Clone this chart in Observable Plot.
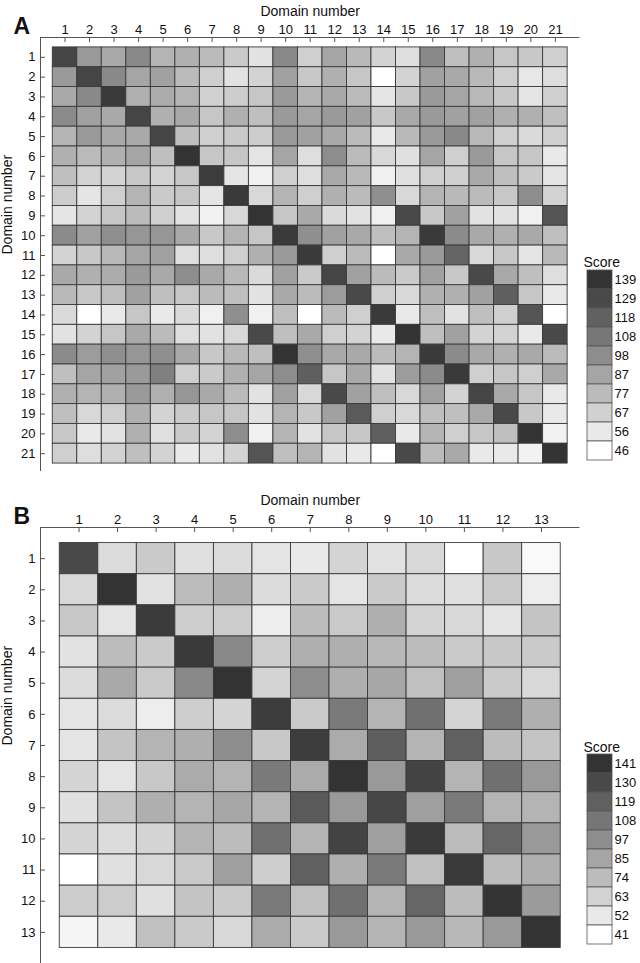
<!DOCTYPE html>
<html><head><meta charset="utf-8">
<script src="https://cdn.jsdelivr.net/npm/d3@7"></script>
<script src="https://cdn.jsdelivr.net/npm/@observablehq/plot@0.6"></script>
<style>
body{margin:0;background:#fff}
#chart{position:relative;width:640px;height:963px;overflow:hidden}
#chart svg{position:absolute;left:0;overflow:visible}
</style>
</head><body><div id="chart"></div>
<script>
const domainsA = [1,2,3,4,5,6,7,8,9,10,11,12,13,14,15,16,17,18,19,20,21];
const scoresA = [
  [131,92,85,100,80,82,77,70,59,100,68,87,78,66,61,100,75,82,72,71,68],
  [92,131,100,87,89,77,68,59,66,89,71,82,72,46,66,89,85,78,68,57,61],
  [85,100,136,82,84,80,67,69,72,92,80,85,77,58,71,92,87,78,71,58,68],
  [99,89,85,131,82,85,72,82,75,92,87,92,89,71,85,92,89,89,82,82,75],
  [80,92,85,85,131,75,68,70,69,92,89,85,77,56,78,92,100,78,68,63,68],
  [82,77,82,87,75,139,72,72,58,87,61,98,77,64,60,87,68,92,72,72,56],
  [75,66,66,71,66,71,135,58,53,68,61,85,78,53,60,68,68,85,75,70,58],
  [69,58,68,80,70,72,58,136,64,80,68,82,77,97,64,80,78,77,71,98,66],
  [58,66,72,77,68,59,52,64,139,72,85,63,59,53,129,71,89,59,59,53,124],
  [99,89,97,94,94,85,71,80,72,136,97,89,85,75,80,136,99,85,82,85,75],
  [66,71,78,87,89,61,61,68,82,92,136,68,77,46,85,92,116,64,71,58,78],
  [85,82,84,92,85,98,85,78,63,89,70,131,89,77,70,89,71,129,85,75,61],
  [78,71,75,89,75,72,77,75,59,85,77,91,129,68,64,82,82,89,119,72,56],
  [63,46,56,72,56,63,53,97,53,75,46,77,68,136,56,75,59,75,68,124,46],
  [59,66,72,85,77,61,59,64,129,75,85,68,66,56,139,75,89,66,66,56,129],
  [99,91,97,94,97,85,71,78,75,139,97,85,85,77,80,136,99,85,82,85,77],
  [75,87,89,92,104,68,70,82,87,98,119,72,85,59,91,99,136,68,72,68,85],
  [82,80,82,92,82,94,85,77,59,89,64,129,89,75,64,89,66,131,85,72,56],
  [75,64,68,82,66,70,72,72,59,80,71,89,121,68,64,75,75,85,129,71,56],
  [71,56,59,82,60,70,66,98,53,80,59,72,72,119,56,80,68,72,75,139,52],
  [68,61,66,75,66,56,59,66,124,75,80,59,56,46,129,77,85,56,56,52,139]
];
const legendA = [139,129,118,108,98,87,77,67,56,46];

const domainsB = [1,2,3,4,5,6,7,8,9,10,11,12,13];
const scoresB = [
  [130,58,67,56,58,54,52,62,55,60,41,68,44],
  [60,141,55,74,80,58,67,54,67,58,56,67,50],
  [68,54,137,65,66,50,74,67,80,62,60,54,70],
  [55,74,67,138,99,65,80,80,76,74,67,68,67],
  [58,83,67,99,141,62,97,80,84,72,88,67,60],
  [54,58,50,65,62,136,67,106,78,111,62,106,80],
  [54,70,78,80,97,68,136,82,120,78,119,74,70],
  [62,54,68,82,78,106,82,141,91,133,78,111,91],
  [56,70,80,78,84,78,122,91,131,88,106,78,78],
  [62,58,62,78,74,111,78,133,88,138,74,116,91],
  [41,56,60,67,88,65,119,80,106,72,138,74,80],
  [66,66,56,70,67,106,72,111,78,116,74,141,90],
  [46,52,72,67,60,82,67,91,78,91,76,91,141]
];
const legendB = [141,130,119,108,97,85,74,63,52,41];

const FONT = "'Liberation Sans', Arial, Helvetica, sans-serif";
const chart = document.getElementById("chart");

function panel({letter, domains, scores, legend, top, height, marginTop, marginBottom, marginRight, yMax,
                swatchTop, swatchBottom, letterDy, scoreDy}) {
  const n = domains.length;
  const cells = scores.flatMap((row, i) => row.map((v, j) => ({row: domains[i], col: domains[j], value: v})));
  const color = {type: "linear", domain: [d3.min(legend), d3.max(legend)], range: ["#ffffff", "#333333"]};
  const frameW = 640 - 40 - marginRight;
  const frameH = height - marginTop - marginBottom;
  const style = {fontFamily: FONT, fontSize: "13px", color: "#111", background: "transparent"};
  const main = Plot.plot({
    width: 640, height, marginTop, marginBottom, marginLeft: 40, marginRight,
    x: {domain: [0, n + 1]},
    y: {domain: [0, yMax], reverse: true},
    color,
    style,
    marks: [
      Plot.rect(cells, {x1: d => d.col - 0.5, x2: d => d.col + 0.5, y1: d => d.row - 0.5, y2: d => d.row + 0.5,
        fill: "value", stroke: "#3a3a3a", strokeWidth: 0.9}),
      Plot.ruleY([0], {stroke: "#555", strokeWidth: 1}),
      Plot.ruleX([0], {stroke: "#555", strokeWidth: 1}),
      Plot.tickX(domains, {x: d => d, insetBottom: frameH - 5, stroke: "#555"}),
      Plot.tickY(domains, {y: d => d, insetRight: frameW - 5, stroke: "#555"}),
      Plot.axisX(domains, {anchor: "top", tickSize: 0, tickPadding: 4, fontSize: 13, label: null}),
      Plot.axisY(domains, {anchor: "left", tickSize: 0, tickPadding: 5, fontSize: 13, label: null}),
      Plot.text(["Domain number"], {frameAnchor: "top", dy: marginTop === 37 ? -31 : -32, fontSize: 14}),
      Plot.text(["Domain number"], {frameAnchor: "left", dx: -33, rotate: -90, fontSize: 14}),
      Plot.text([letter], {frameAnchor: "top-left", dx: -27, dy: letterDy, fontSize: 23, fontWeight: "bold", textAnchor: "start"})
    ]
  });
  const leg = Plot.plot({
    width: 640, height, marginTop: swatchTop, marginBottom: height - swatchBottom, marginLeft: 587, marginRight: 28,
    x: {type: "band", domain: ["s"], padding: 0, axis: null},
    y: {type: "band", domain: legend, padding: 0},
    color,
    style,
    marks: [
      Plot.cell(legend, {x: () => "s", y: d => d, fill: d => d, stroke: "#555", strokeWidth: 0.8, inset: 0}),
      Plot.axisY({anchor: "right", tickSize: 0, tickPadding: 2, fontSize: 13, label: null}),
      Plot.text(["Score"], {frameAnchor: "top-left", dx: -4, dy: scoreDy, fontSize: 14, textAnchor: "start"})
    ]
  });
  for (const el of [main, leg]) {
    el.style.position = "absolute";
    el.style.top = top + "px";
    el.style.left = "0px";
    chart.appendChild(el);
  }
}

panel({letter: "A", domains: domainsA, scores: scoresA, legend: legendA, top: 0, height: 475,
  marginTop: 37, marginBottom: 4, marginRight: 60.6, yMax: 21.9,
  swatchTop: 267, swatchBottom: 462, letterDy: -20, scoreDy: -10});
panel({letter: "B", domains: domainsB, scores: scoresB, legend: legendB, top: 475, height: 488,
  marginTop: 52, marginBottom: 0, marginRight: 60.5, yMax: 14,
  swatchTop: 276, swatchBottom: 472, letterDy: -19.5, scoreDy: -9});
</script>
</body></html>
